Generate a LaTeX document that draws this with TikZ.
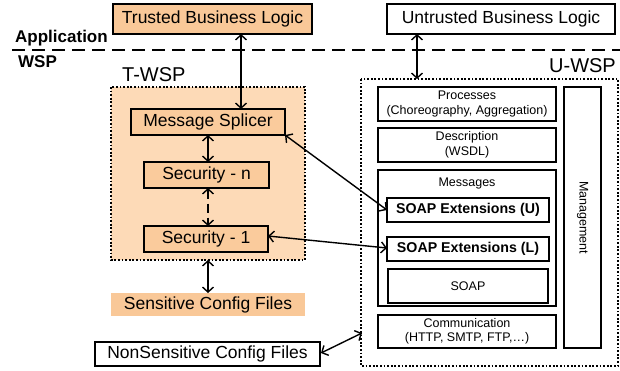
\documentclass[tikz,border=0pt]{standalone}
\usepackage{fontspec}
\setmainfont{Liberation Sans}
\usetikzlibrary{arrows.meta}
\definecolor{trustfill}{HTML}{F9C898}
\definecolor{twspfill}{HTML}{FDDAB7}
\definecolor{innerfill}{HTML}{FACB9C}
\begin{document}
\begin{tikzpicture}[x=1pt,y=-1pt,
  box/.style={draw,line width=1.8pt,inner sep=0pt},
  dotbox/.style={draw,line width=1.5pt,dash pattern=on 1.8pt off 1.8pt},
  biarrow/.style={line width=1.4pt,{Straight Barb[length=5pt,width=11pt]}-{Straight Barb[length=5pt,width=11pt]}},
  big/.style={font=\fontsize{17.5}{20}\selectfont},
  small/.style={font=\fontsize{12.5}{14.5}\selectfont,align=center}]
\useasboundingbox (0,0) rectangle (620,370);

% layer labels and separator
\node[anchor=west,inner sep=0pt,font=\fontsize{17}{19}\selectfont\bfseries] (app) at (15,38) {Application};
\node[anchor=west,inner sep=0pt,font=\fontsize{17}{19}\selectfont\bfseries] (wsp) at (18,62) {WSP};
\draw[line width=1.5pt,dash pattern=on 13pt off 7pt] (12,50) -- (620,50);

% business logic
\draw[box,fill=trustfill] (113,4) rectangle (312,34);
\node[big] (tbl) at (212.5,19) {Trusted Business Logic};
\coordinate (tblb) at (241,34);
\draw[box] (387,4) rectangle (615,34);
\node[big] (ubl) at (501,19) {Untrusted Business Logic};
\coordinate (ublb) at (417,34);

% trusted WSP
\node[anchor=west,inner sep=0pt,font=\fontsize{20}{22}\selectfont] (tw) at (122,75) {T-WSP};
\draw[dotbox,fill=twspfill] (111,87) rectangle (305,260);
\coordinate (twb) at (208,260);
\draw[box,fill=innerfill] (131,109) rectangle (285,135);
\node[big] (ms) at (208,122) {Message Splicer};
\coordinate (mst) at (241,109);
\coordinate (msb) at (208,135);
\coordinate (msc) at (285,135);
\draw[box,fill=innerfill] (144,162) rectangle (269,188);
\node[big] (sn) at (206.5,175) {Security - n};
\coordinate (snt) at (208,162);
\coordinate (snb) at (208,188);
\draw[box,fill=innerfill] (144,226) rectangle (268,252);
\node[big] (s1) at (206,239) {Security - 1};
\coordinate (s1t) at (208,226);
\coordinate (s1r) at (268,236);

\fill[trustfill] (111,293) rectangle (305,316);
\node[big] (scf) at (208,304.5) {Sensitive Config Files};
\coordinate (scft) at (208,293);

\draw[box] (95,342) rectangle (320,366);
\node[big] (ncf) at (207.5,354) {NonSensitive Config Files};
\coordinate (ncfr) at (321,353);

% untrusted WSP
\node[anchor=east,inner sep=0pt,font=\fontsize{20}{22}\selectfont] (uw) at (616,66) {U-WSP};
\draw[dotbox] (361,79) rectangle (618,366);
\coordinate (uwt) at (417,79);
\coordinate (uwl) at (362,333);

\draw[box] (378,87) rectangle (556,121);
\node[small] (proc) at (467,104) {Processes\\(Choreography, Aggregation)};
\draw[box] (378,128) rectangle (556,162);
\node[small] (desc) at (467,145) {Description\\(WSDL)};
\draw[box] (378,170) rectangle (556,306);
\node[small] (msg) at (467,183) {Messages};
\draw[box] (387,198) rectangle (549,222);
\node[font=\fontsize{14.2}{16}\selectfont\bfseries] (seu) at (468,210) {SOAP Extensions (U)};
\coordinate (seul) at (387,210);
\draw[box] (387,237) rectangle (549,261);
\node[font=\fontsize{14.2}{16}\selectfont\bfseries] (sel) at (468,249) {SOAP Extensions (L)};
\coordinate (sell) at (387,248);
\draw[box] (388,269) rectangle (548,303);
\node[font=\fontsize{12.5}{14}\selectfont] (soap) at (468,286) {SOAP};
\draw[box] (378,315) rectangle (556,348);
\node[small] (comm) at (467,331.5) {Communication\\(HTTP, SMTP, FTP,\dots)};
\draw[box] (564,87) rectangle (601,348);
\node[small,rotate=-90] (mgmt) at (582.5,217.5) {Management};

% connectors
\draw[biarrow] (tblb) -- (mst);
\draw[biarrow] (ublb) -- (uwt);
\draw[biarrow] (msb) -- (snt);
\draw[biarrow,dash pattern=on 9pt off 5pt] (snb) -- (s1t);
\draw[biarrow] (twb) -- (scft);
\draw[biarrow] (msc) -- (seul);
\draw[biarrow] (s1r) -- (sell);
\draw[biarrow] (ncfr) -- (uwl);
\end{tikzpicture}
\end{document}
